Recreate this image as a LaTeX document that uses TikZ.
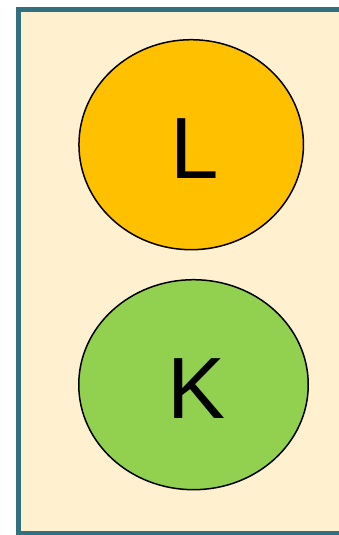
\documentclass[tikz,border=0pt]{standalone}
\usepackage{fontspec}
\setmainfont{Liberation Sans}
\usetikzlibrary{shapes.geometric}
\definecolor{frame}{HTML}{31707F}
\definecolor{cream}{HTML}{FFF0D0}
\definecolor{gold}{HTML}{FFC000}
\definecolor{leaf}{HTML}{92D050}

\begin{document}
\begin{tikzpicture}[x=1pt,y=-1pt,
    blob/.style={ellipse,draw=black,line width=1.5pt,inner sep=0pt,
        minimum height=210pt,text height=68pt,text depth=0pt,
        font=\fontsize{87}{87}\selectfont}]

    \useasboundingbox (0,0) rectangle (339,535);
    \clip (0,0) rectangle (339,535);

    \draw[line width=5pt,frame,fill=cream] (18.7,9.8) rectangle (360,533.5);

    \node[blob,fill=gold,minimum width=224.5pt] (L) at (191.2,144.7) {\hspace*{7pt}L};
    \node[blob,fill=leaf,minimum width=229.5pt] (K) at (193.5,384.7) {\hspace*{7pt}K};

\end{tikzpicture}
\end{document}
